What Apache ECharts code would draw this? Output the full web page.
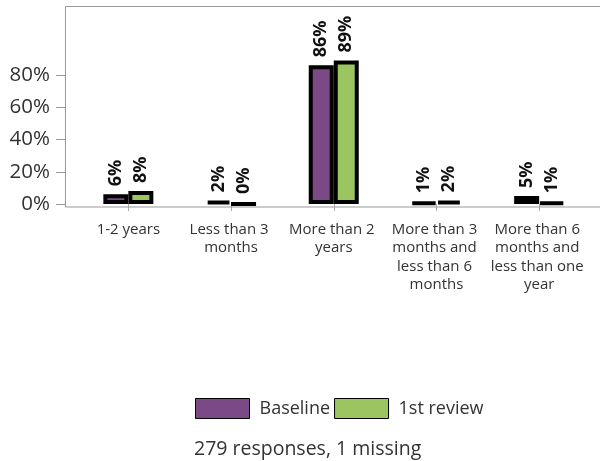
<!DOCTYPE html>
<html>
<head>
<meta charset="utf-8">
<script src="https://cdn.jsdelivr.net/npm/echarts@6/dist/echarts.min.js"></script>
<style>html,body{margin:0;padding:0;background:#fff}#c{width:600px;height:461px}</style>
</head>
<body>
<div id="c"></div>
<script>
var categories = ['1-2 years', 'Less than 3 months', 'More than 2 years', 'More than 3 months and less than 6 months', 'More than 6 months and less than one year'];
var baseline = [6, 2, 86, 1, 5];
var review1 = [8, 0, 89, 2, 1];
var seriesNames = ['Baseline', '1st review'];
var yTicks = [0, 20, 40, 60, 80];
var subtitle = '279 responses, 1 missing';

var FONT = 'Open Sans';
var chart = echarts.init(document.getElementById('c'), null, {renderer: 'canvas'});
var labelOpt = {
  show: true, position: 'top', rotate: 90, align: 'left', verticalAlign: 'middle',
  distance: 8, fontFamily: FONT, fontWeight: 'bold', fontSize: 18, color: '#111',
  formatter: function (p) { return p.value + '%'; }
};
chart.setOption({
  animation: false,
  textStyle: {fontFamily: FONT},
  title: {
    text: subtitle, left: 189, top: 434,
    textStyle: {fontFamily: FONT, fontSize: 19.5, fontWeight: 'normal', color: '#333'}
  },
  legend: {
    left: 190, top: 393, itemWidth: 54, itemHeight: 20, itemGap: 4,
    icon: 'rect',
    itemStyle: {borderColor: '#000', borderWidth: 1},
    textStyle: {fontFamily: FONT, fontSize: 18, color: '#333', padding: [0, 0, 0, 5]},
    data: seriesNames
  },
  grid: {left: 77, right: 9.5, top: 6, bottom: 254, containLabel: false},
  graphic: [{
    type: 'rect', z: 100, silent: true,
    shape: {x: 65.5, y: 6.5, width: 560, height: 200.5},
    style: {fill: null, stroke: '#999', lineWidth: 1}
  }],
  xAxis: {
    type: 'category', data: categories,
    axisLine: {show: false},
    axisTick: {show: true, alignWithLabel: true, length: 7, lineStyle: {color: '#aaa'}},
    axisLabel: {
      fontFamily: FONT, fontSize: 15, color: '#333', interval: 0, margin: 13,
      width: 100, overflow: 'break', lineHeight: 18.5
    }
  },
  yAxis: {
    type: 'value', min: -1.86, max: 122.8, offset: 11,
    splitLine: {show: false},
    axisLine: {show: false},
    axisTick: {show: true, length: 10, lineStyle: {color: '#999'}, customValues: yTicks},
    axisLabel: {
      fontFamily: FONT, fontSize: 20.5, color: '#333', margin: 16, customValues: yTicks,
      formatter: function (v) { return v + '%'; }
    }
  },
  series: [{
    name: seriesNames[0], type: 'bar', data: baseline, barWidth: 25, barGap: '0%',
    itemStyle: {color: '#7b4986', borderColor: '#000', borderWidth: 4},
    label: labelOpt
  }, {
    name: seriesNames[1], type: 'bar', data: review1, barWidth: 25, barGap: '0%',
    itemStyle: {color: '#9ac560', borderColor: '#000', borderWidth: 4},
    label: labelOpt
  }]
});
</script>
</body>
</html>
